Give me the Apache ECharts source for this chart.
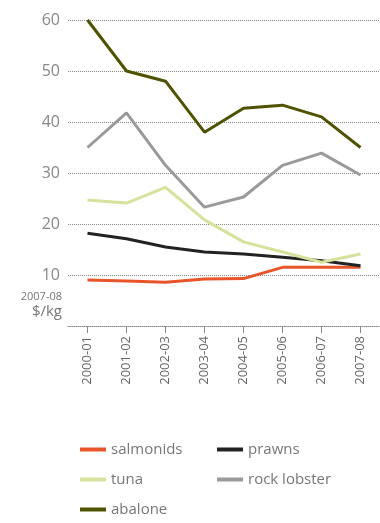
<!DOCTYPE html>
<html><head><meta charset="utf-8">
<script src="https://cdn.jsdelivr.net/npm/echarts@6/dist/echarts.min.js"></script>
<style>html,body{margin:0;padding:0;background:#fff}#c{width:380px;height:523px}</style>
</head><body><div id="c"></div>
<script>
var categories = ['2000-01','2001-02','2002-03','2003-04','2004-05','2005-06','2006-07','2007-08'];
var salmonids = [9.0, 8.8, 8.6, 9.2, 9.3, 11.5, 11.5, 11.5];
var prawns = [18.2, 17.1, 15.5, 14.5, 14.1, 13.5, 12.8, 11.8];
var tuna = [24.7, 24.1, 27.2, 20.8, 16.5, 14.5, 12.5, 14.1];
var rockLobster = [35.0, 41.8, 31.5, 23.3, 25.3, 31.5, 33.9, 29.6];
var abalone = [60.0, 50.0, 48.0, 38.0, 42.7, 43.3, 41.0, 35.0];
var yTicks = [0, 10, 20, 30, 40, 50, 60];

var FONT = 'Open Sans';
var chart = echarts.init(document.getElementById('c'));
function s(name, data, color) {
  return {name: name, type: 'line', data: data, symbol: 'none', smooth: false,
    lineStyle: {width: 3, color: color}, itemStyle: {color: color}};
}
chart.setOption({
  animation: false,
  grid: {left: 68, right: -8, top: 20, bottom: 197},
  xAxis: {
    type: 'category', data: categories, boundaryGap: true,
    axisLine: {show: true, lineStyle: {color: '#888', type: 'dotted', width: 1}},
    axisTick: {show: true, alignWithLabel: true, length: 7, lineStyle: {color: '#888'}},
    axisLabel: {rotate: 90, fontFamily: FONT, fontSize: 13, color: '#666', margin: 10}
  },
  yAxis: {
    type: 'value', min: yTicks[0], max: yTicks[yTicks.length - 1], interval: 10,
    axisLine: {show: false}, axisTick: {show: false},
    splitLine: {show: true, lineStyle: {color: '#888', type: 'dotted', width: 1}},
    axisLabel: {fontFamily: FONT, fontSize: 16, color: '#888', margin: 8,
      formatter: function (v) { return v === 0 ? '' : String(v); }}
  },
  legend: [
    {data: ['salmonids', 'tuna', 'abalone'], orient: 'vertical', left: 80, top: 442,
      height: 100, padding: 0,
      itemWidth: 26, itemHeight: 4, itemGap: 15, icon: 'rect',
      textStyle: {fontFamily: FONT, fontSize: 15, color: '#777'}},
    {data: ['prawns', 'rock lobster'], orient: 'vertical', left: 217, top: 442,
      height: 100, padding: 0,
      itemWidth: 26, itemHeight: 4, itemGap: 15, icon: 'rect',
      textStyle: {fontFamily: FONT, fontSize: 15, color: '#777'}}
  ],
  graphic: [
    {type: 'text', right: 318, top: 291, style: {text: '2007-08', fontFamily: FONT, fontSize: 11, fill: '#777', textAlign: 'right'}},
    {type: 'text', right: 318, top: 304, style: {text: '$/kg', fontFamily: FONT, fontSize: 15, fill: '#777', textAlign: 'right'}}
  ],
  series: [
    s('salmonids', salmonids, '#e8552b'),
    s('prawns', prawns, '#222222'),
    s('tuna', tuna, '#d5e29c'),
    s('rock lobster', rockLobster, '#9a9a9a'),
    s('abalone', abalone, '#4f5200')
  ]
});
</script></body></html>
